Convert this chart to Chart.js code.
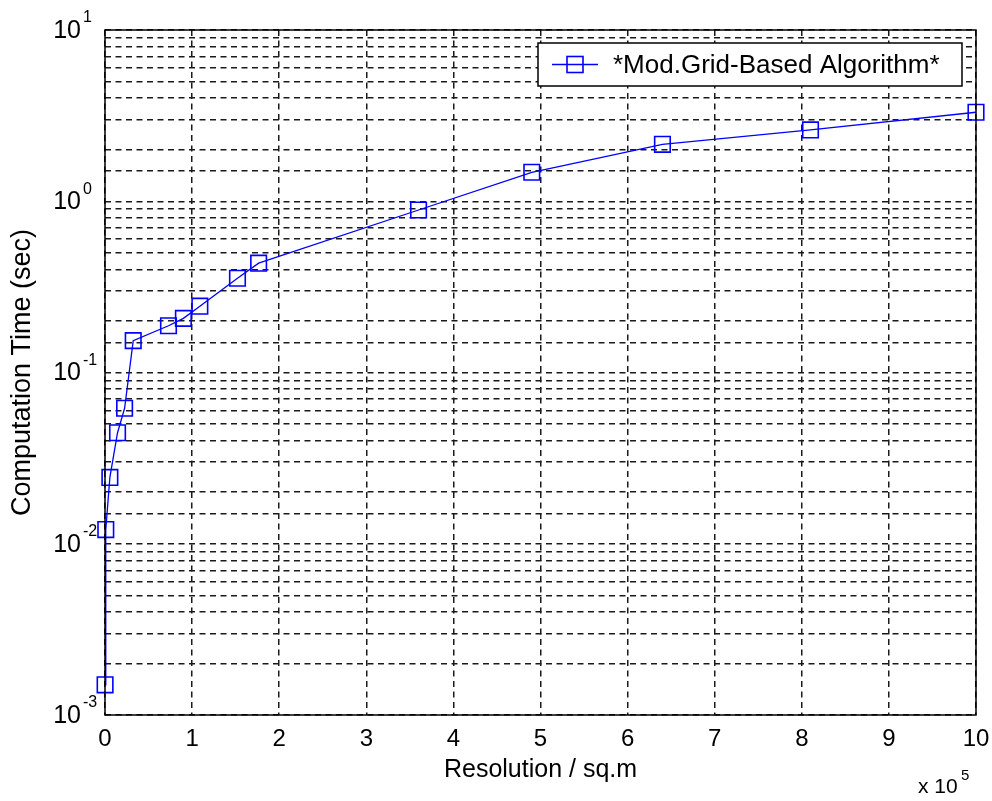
<!DOCTYPE html>
<html>
<head>
    <title>Computation Time vs Resolution</title>
    <script src="https://cdn.jsdelivr.net/npm/chart.js"></script>
    <style>
        body {
            margin: 0;
            background: #fff;
        }

        .chart-container {
            width: 992px;
            height: 801px;
        }
    </style>
</head>
<body>
    <div class="chart-container">
        <canvas id="time-chart" width="992" height="801"></canvas>
    </div>

    <script>
        // values (x in units of 10^5 sq.m)
        const seriesLabel = '*Mod.Grid-Based Algorithm*';
        const resolution = [0.001, 0.009, 0.056, 0.144, 0.225, 0.324, 0.729, 0.9, 1.089, 1.521, 1.764, 3.6, 4.9, 6.4, 8.1, 10];
        const compTime = [0.0015, 0.0121, 0.0244, 0.0445, 0.0618, 0.1535, 0.1875, 0.207, 0.244, 0.355, 0.435, 0.889, 1.476, 2.15, 2.61, 3.31];
        const yDecades = [-3, -2, -1, 0, 1];
        const xTitle = 'Resolution / sq.m';
        const yTitle = 'Computation Time (sec)';
        const xMultiplier = ['x 10', '5'];

        const FONT = "'Liberation Sans', Arial, sans-serif";
        const BLUE = '#0000ff';

        // box, decade labels, x-multiplier and the legend, drawn in matlab style
        const matlabFrame = {
            id: 'matlabFrame',
            afterDraw(chart) {
                const ctx = chart.ctx;
                const area = chart.chartArea;
                const yScale = chart.scales.y;
                ctx.save();

                ctx.strokeStyle = '#000';
                ctx.lineWidth = 1.5;
                ctx.strokeRect(area.left, area.top, area.right - area.left, area.bottom - area.top);

                ctx.fillStyle = '#000';
                yDecades.forEach(n => {
                    const y = yScale.getPixelForValue(Math.pow(10, n));
                    ctx.font = '25px ' + FONT;
                    ctx.textAlign = 'right';
                    ctx.textBaseline = 'middle';
                    ctx.fillText('10', area.left - 24, y + 1);
                    ctx.font = '16px ' + FONT;
                    ctx.textAlign = 'left';
                    ctx.fillText(String(n), area.left - 22, y - 12);
                });

                ctx.font = '21px ' + FONT;
                ctx.textAlign = 'left';
                ctx.textBaseline = 'alphabetic';
                ctx.fillText(xMultiplier[0], area.right - 58, 793);
                ctx.font = '15px ' + FONT;
                ctx.fillText(xMultiplier[1], area.right - 15, 780);

                // legend
                const lx = 538, ly = 43, lw = 424, lh = 43;
                ctx.fillStyle = '#fff';
                ctx.fillRect(lx, ly, lw, lh);
                ctx.strokeStyle = '#000';
                ctx.lineWidth = 1.5;
                ctx.strokeRect(lx, ly, lw, lh);
                const cy = ly + lh / 2;
                ctx.strokeStyle = BLUE;
                ctx.lineWidth = 1.3;
                ctx.beginPath();
                ctx.moveTo(lx + 14, cy);
                ctx.lineTo(lx + 60, cy);
                ctx.stroke();
                ctx.lineWidth = 1.6;
                ctx.strokeRect(lx + 29, cy - 8, 16, 16);
                ctx.fillStyle = '#000';
                ctx.font = '26px ' + FONT;
                ctx.textBaseline = 'middle';
                ctx.fillText(chart.data.datasets[0].label, lx + 75, cy + 1);

                ctx.restore();
            }
        };

        const ctx = document.getElementById('time-chart').getContext('2d');
        const chart = new Chart(ctx, {
            type: 'line',
            data: {
                datasets: [
                    {
                        label: seriesLabel,
                        data: resolution.map((x, i) => ({ x: x, y: compTime[i] })),
                        borderColor: BLUE,
                        borderWidth: 1.3,
                        pointStyle: 'rect',
                        pointRadius: 11,
                        pointHoverRadius: 11,
                        pointBorderWidth: 1.6,
                        pointBorderColor: BLUE,
                        pointBackgroundColor: 'rgba(0,0,0,0)',
                        tension: 0,
                        fill: false,
                        clip: false
                    }
                ]
            },
            options: {
                responsive: false,
                animation: false,
                layout: {
                    padding: { left: 0, top: 30, right: 16, bottom: 0 }
                },
                plugins: {
                    legend: { display: false },
                    tooltip: { enabled: false }
                },
                scales: {
                    x: {
                        type: 'linear',
                        min: 0,
                        max: 10,
                        afterFit: scale => {
                            scale.height = 86;
                            scale.paddingLeft = 0;
                            scale.paddingRight = 0;
                        },
                        grid: { color: '#1a1a1a', lineWidth: 1.5, drawTicks: false },
                        border: { display: false, dash: [6, 4.5] },
                        ticks: {
                            stepSize: 1,
                            autoSkip: false,
                            maxRotation: 0,
                            padding: 10,
                            color: '#000',
                            font: { family: FONT, size: 24 }
                        },
                        title: {
                            display: true,
                            text: xTitle,
                            color: '#000',
                            font: { family: FONT, size: 25 },
                            padding: { top: 0, bottom: 16 }
                        }
                    },
                    y: {
                        type: 'logarithmic',
                        min: 0.001,
                        max: 10,
                        afterFit: scale => {
                            scale.width = 105;
                            scale.paddingTop = 0;
                            scale.paddingBottom = 0;
                        },
                        grid: { color: '#1a1a1a', lineWidth: 1.5, drawTicks: false },
                        border: { display: false, dash: [6, 4.5] },
                        ticks: { display: false },
                        title: {
                            display: true,
                            text: yTitle,
                            color: '#000',
                            font: { family: FONT, size: 27 },
                            padding: { top: 6, bottom: 0 }
                        }
                    }
                }
            },
            plugins: [matlabFrame]
        });
    </script>
</body>
</html>
